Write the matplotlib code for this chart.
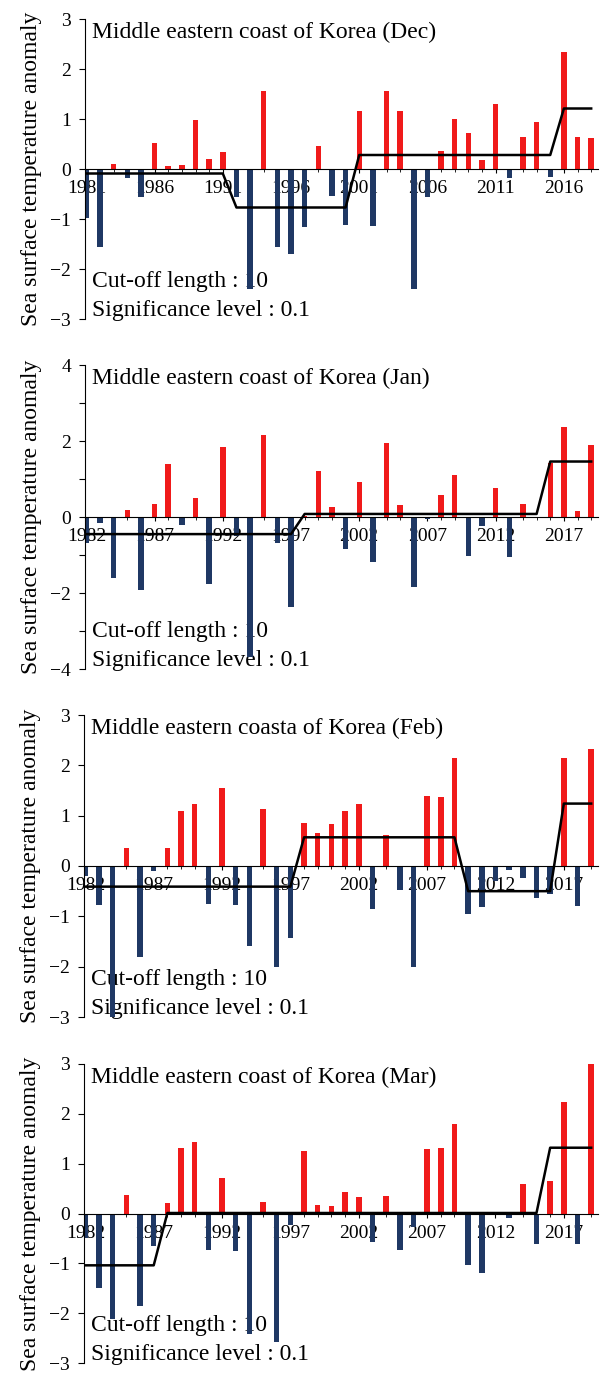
import numpy as np
import matplotlib
matplotlib.use('Agg')
import matplotlib.pyplot as plt
from matplotlib.ticker import MultipleLocator

plt.rcParams['font.family'] = ['Liberation Serif', 'DejaVu Serif']

# ------------------------------ Dados ----------------------------------------#
dec_years = list(range(1981, 2019))
dec_anom = [-0.98, -1.56, 0.10, -0.18, -0.55, 0.52, 0.07, 0.08, 0.99, 0.21,
            0.35, -0.55, -2.40, 1.56, -1.56, -1.69, -1.15, 0.47, -0.53, -1.12,
            1.17, -1.13, 1.56, 1.17, -2.39, -0.56, 0.37, 1.00, 0.72, 0.18,
            1.30, -0.18, 0.64, 0.95, -0.16, 2.34, 0.65, 0.63]
dec_shift_start = [1981, 1992, 2001, 2016]
dec_shift_level = [-0.09, -0.77, 0.28, 1.21]

jan_years = list(range(1982, 2020))
jan_anom = [-0.69, -0.15, -1.61, 0.18, -1.92, 0.34, 1.39, -0.21, 0.51, -1.77,
            1.85, -0.50, -3.68, 2.15, -0.69, -2.38, 0.03, 1.22, 0.27, -0.85,
            0.93, -1.18, 1.96, 0.32, -1.83, -0.05, 0.58, 1.10, -1.02, -0.24,
            0.77, -1.04, 0.33, -0.03, 1.41, 2.36, 0.16, 1.89]
jan_shift_start = [1982, 1998, 2016]
jan_shift_level = [-0.45, 0.08, 1.46]

feb_years = list(range(1982, 2020))
feb_anom = [-0.20, -0.78, -3.06, 0.35, -1.81, -0.10, 0.36, 1.09, 1.24, -0.75,
            1.54, -0.78, -1.58, 1.14, -2.01, -1.43, 0.85, 0.66, 0.84, 1.09,
            1.24, -0.86, 0.61, -0.47, -2.01, 1.39, 1.37, 2.15, -0.95, -0.82,
            -0.30, -0.08, -0.23, -0.63, -0.55, 2.15, -0.79, 2.33]
feb_shift_start = [1982, 1998, 2010, 2017]
feb_shift_level = [-0.41, 0.57, -0.50, 1.24]

mar_years = list(range(1982, 2020))
mar_anom = [-0.50, -1.49, -2.12, 0.37, -1.85, -0.65, 0.21, 1.31, 1.43, -0.73,
            0.72, -0.75, -2.41, 0.23, -2.57, -0.23, 1.25, 0.17, 0.15, 0.43,
            0.33, -0.57, 0.35, -0.73, -0.27, 1.30, 1.32, 1.79, -1.03, -1.20,
            0.02, -0.10, 0.60, -0.61, 0.65, 2.23, -0.61, 2.99]
mar_shift_start = [1982, 1988, 2016]
mar_shift_level = [-1.04, 0.01, 1.32]

titulos = ['Middle eastern coast of Korea (Dec)',
           'Middle eastern coast of Korea (Jan)',
           'Middle eastern coasta of Korea (Feb)',
           'Middle eastern coast of Korea (Mar)']
# -----------------------------------------------------------------------------#

paineis = [
    (dec_years, dec_anom, dec_shift_start, dec_shift_level, 3, 1, None),
    (jan_years, jan_anom, jan_shift_start, jan_shift_level, 4, 2, 1),
    (feb_years, feb_anom, feb_shift_start, feb_shift_level, 3, 1, None),
    (mar_years, mar_anom, mar_shift_start, mar_shift_level, 3, 1, None),
]

# posicao dos eixos em pixels (esquerda, topo, base)
pos_px = [(85, 19, 319), (85, 365, 669), (84, 715, 1017), (84, 1064, 1363)]

W, H = 602, 1374
fig = plt.figure(figsize=(W / 100, H / 100), dpi=100)

vermelho = '#f01a1a'
azul = '#1f3864'

for i, (anos, anom, ini, nivel, ylim, passo, menor) in enumerate(paineis):
    esq, topo, base = pos_px[i]
    direita = 598
    ax = fig.add_axes([esq / W, 1 - base / H, (direita - esq) / W, (base - topo) / H])

    anos = np.array(anos)
    anom = np.array(anom)
    cores = [vermelho if v > 0 else azul for v in anom]
    ax.bar(anos, anom, width=0.4, color=cores, zorder=2)

    # linha de mudanca de regime
    idx = np.searchsorted(ini, anos, side='right') - 1
    linha = np.array(nivel)[idx]
    ax.plot(anos, linha, color='black', lw=1.8, zorder=3)

    ax.set_xlim(anos[0] - 0.1, anos[-1] + 0.5)
    ax.set_ylim(-ylim, ylim)
    ax.yaxis.set_major_locator(MultipleLocator(passo))
    if menor:
        ax.yaxis.set_minor_locator(MultipleLocator(menor))
    ax.set_xticks(anos[::5])
    ax.set_xticklabels([str(a) for a in anos[::5]])
    ax.xaxis.set_minor_locator(MultipleLocator(1))

    ax.spines['top'].set_visible(False)
    ax.spines['right'].set_visible(False)
    ax.spines['bottom'].set_position(('data', 0))
    ax.spines['bottom'].set_linewidth(0.8)
    ax.spines['bottom'].set_zorder(2.5)
    ax.spines['left'].set_linewidth(0.8)

    ax.tick_params(axis='y', direction='out', length=4, width=0.8,
                   labelsize=14, pad=6)
    ax.tick_params(axis='y', which='minor', direction='out', length=4, width=0.8)
    ax.tick_params(axis='x', direction='out', length=3, width=0.8,
                   labelsize=14, pad=5)
    ax.tick_params(axis='x', which='minor', direction='out', length=2, width=0.6)

    ax.set_ylabel('Sea surface temperature anomaly', fontsize=17)
    ax.yaxis.set_label_coords(-0.084, 0.5)

    ax.text(0.014, 0.955, titulos[i], transform=ax.transAxes, fontsize=17,
            va='center', ha='left', zorder=1)
    ax.text(0.014, 0.125, 'Cut-off length : 10', transform=ax.transAxes,
            fontsize=17, va='center', ha='left', zorder=1)
    ax.text(0.014, 0.027, 'Significance level : 0.1', transform=ax.transAxes,
            fontsize=17, va='center', ha='left', zorder=1)

fig.savefig('out.png', dpi=100)
